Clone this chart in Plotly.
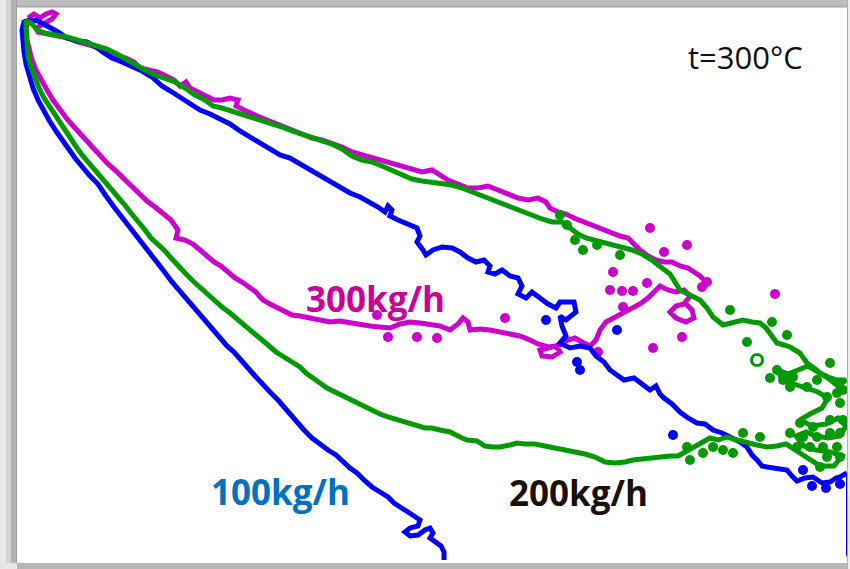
import plotly.graph_objects as go

# ---- traced loop curves (x: position across, y: position down) ----
# 100 kg/h : lower branch (bottom end -> start) then upper branch
blue_lower_x = [444, 444, 441, 436, 430, 433, 430, 425, 418, 410, 405, 410, 418, 420, 415, 408, 400, 394, 388, 380,
                372, 364, 357, 350, 343, 336, 328, 320, 312, 304, 297, 291, 285, 278, 270, 262, 255, 248, 241, 234,
                227, 220, 212, 204, 196, 188, 180, 172, 163, 155, 146, 138, 130, 122, 114, 106, 98, 90, 82, 75,
                68, 62, 56, 49, 43, 38, 33, 29, 26, 24, 23, 22, 24]
blue_lower_y = [560, 552, 546, 542, 538, 533, 528, 530, 535, 536, 532, 528, 526, 520, 516, 512, 507, 503, 497, 492,
                487, 480, 473, 468, 462, 455, 450, 444, 438, 430, 422, 414, 407, 400, 392, 384, 376, 368, 360, 352,
                346, 338, 328, 318, 310, 301, 292, 282, 270, 260, 248, 238, 228, 218, 207, 196, 184, 176, 167, 158,
                148, 140, 131, 120, 110, 100, 88, 76, 64, 52, 40, 30, 22]
blue_upper_x = [30, 38, 48, 58, 67, 77, 87, 96, 104, 112, 122, 132, 142, 152, 162, 172, 182, 192, 200, 210,
                220, 230, 240, 250, 260, 270, 280, 290, 300, 310, 320, 330, 340, 350, 360, 370, 378, 385, 388, 392,
                390, 398, 408, 417, 420, 417, 423, 426, 433, 442, 452, 460, 468, 476, 484, 490, 488, 495, 502, 510,
                518, 522, 518, 526, 532, 540, 548, 556, 560, 574, 576, 566, 560, 562, 566, 560, 570, 580, 590, 596,
                604, 610, 618, 624, 634, 642, 650, 656, 660, 664, 672, 680, 688, 697, 705, 713, 722, 730, 740, 747,
                752, 757, 762, 767, 777, 787, 792, 797, 805, 813, 822, 830, 836, 840, 847]
blue_upper_y = [20, 21, 26, 32, 38, 41, 42, 47, 53, 58, 62, 66, 71, 77, 86, 92, 98, 104, 110, 114,
                119, 124, 131, 137, 144, 150, 155, 158, 164, 170, 176, 182, 188, 193, 197, 202, 207, 212, 206, 210,
                216, 220, 224, 228, 236, 242, 250, 255, 250, 247, 248, 252, 258, 262, 260, 266, 272, 274, 270, 276,
                278, 286, 294, 298, 292, 298, 304, 308, 302, 302, 312, 320, 316, 326, 336, 343, 348, 346, 348, 356,
                362, 370, 376, 380, 378, 384, 390, 386, 394, 398, 404, 412, 418, 423, 424, 430, 433, 437, 442, 447,
                455, 460, 466, 467, 468, 470, 476, 481, 478, 477, 483, 482, 478, 477, 473]
blue_edge_x = [847, 847]
blue_edge_y = [476, 556]
blue_dot_x = [546, 577, 580, 617, 673, 812, 826, 840, 803]
blue_dot_y = [320, 362, 370, 330, 435, 486, 488, 484, 470]

# 200 kg/h : upper branch, right-hand cluster, lower branch back to start
green_upper_x = [26, 32, 37, 45, 55, 67, 77, 87, 97, 107, 117, 127, 137, 145, 155, 165, 175, 185, 195, 205,
                 213, 222, 232, 242, 252, 262, 272, 282, 292, 302, 312, 322, 332, 342, 352, 362, 372, 382, 392, 402,
                 412, 422, 432, 442, 452, 462, 472, 482, 492, 502, 512, 522, 532, 542, 552, 562, 570, 578, 586, 594,
                 602, 612, 622, 632, 642, 652, 662, 670, 680, 690, 700, 707, 713, 723, 733, 743, 752, 760, 766, 770,
                 777, 784, 790, 800, 807, 814, 820, 828, 837, 846]
green_upper_y = [20, 24, 30, 33, 35, 37, 40, 43, 45, 49, 54, 60, 66, 70, 75, 78, 82, 88, 95, 100,
                 106, 108, 111, 114, 118, 121, 124, 127, 131, 134, 138, 141, 144, 149, 156, 160, 162, 166, 170, 175,
                 179, 181, 182, 184, 185, 188, 192, 195, 199, 203, 207, 212, 216, 219, 222, 222, 228, 234, 238, 240,
                 242, 245, 248, 250, 254, 260, 268, 274, 290, 295, 300, 308, 317, 325, 322, 320, 322, 323, 328, 333,
                 343, 345, 347, 353, 363, 368, 373, 377, 380, 380]
green_cluster_x = [838, 828, 818, 808, 798, 788, 778, 782, 794, 806, 818, 828, 822, 810, 800, 812, 826, 838, 846, 840,
                   828, 816, 806, 796, 804, 816, 830, 842, 834, 820, 808, 796, 786]
green_cluster_y = [386, 378, 372, 366, 370, 374, 370, 380, 384, 388, 392, 398, 408, 414, 420, 426, 424, 418, 426, 436,
                   438, 436, 432, 436, 446, 450, 452, 456, 466, 466, 458, 450, 444]
green_lower_x = [777, 767, 757, 747, 737, 727, 718, 710, 703, 696, 690, 684, 678, 670, 660, 650, 640, 633, 625,
                 615, 605, 595, 585, 575, 565, 555, 545, 535, 525, 517, 510, 500, 493, 485, 477, 467, 460, 450, 440,
                 432, 425, 418, 410, 402, 395, 388, 380, 372, 365, 358, 350, 342, 334, 327, 320, 313, 306, 300, 292,
                 284, 276, 268, 260, 252, 246, 238, 230, 222, 215, 208, 200, 193, 186, 179, 172, 165, 158, 151, 145,
                 138, 131, 124, 117, 110, 103, 96, 89, 82, 75, 69, 62, 56, 50, 44, 39, 35, 31, 28, 27,
                 26, 26, 26]
green_lower_y = [446, 447, 445, 443, 440, 437, 440, 438, 442, 446, 450, 454, 456, 456, 457, 458, 460, 460, 462,
                 463, 462, 457, 454, 452, 451, 449, 447, 444, 444, 443, 445, 447, 447, 446, 441, 440, 437, 432, 430,
                 428, 428, 426, 424, 422, 420, 417, 414, 410, 407, 404, 399, 396, 391, 388, 383, 378, 373, 367, 362,
                 357, 352, 345, 338, 331, 326, 320, 313, 307, 301, 295, 288, 281, 274, 267, 259, 251, 244, 238, 230,
                 222, 213, 204, 196, 188, 180, 172, 164, 155, 145, 136, 126, 117, 108, 98, 88, 78, 67, 56, 45,
                 35, 26, 20]
green_dot_x = [730, 772, 747, 787, 770, 787, 807, 830, 777, 783, 793, 790, 817, 827, 837, 843, 840, 830, 843, 813,
               800, 790, 803, 817, 830, 840, 797, 810, 823, 837, 827, 840, 820, 687, 690, 703, 713, 723, 733, 743,
               760, 560, 567, 575, 583, 597, 620]
green_dot_y = [310, 322, 342, 335, 378, 380, 387, 363, 370, 380, 377, 387, 380, 397, 393, 390, 403, 420, 420, 427,
               423, 433, 437, 437, 433, 433, 447, 447, 447, 447, 457, 457, 467, 447, 460, 453, 447, 450, 453, 433,
               437, 215, 225, 240, 250, 245, 255]
green_ring_x = [757]
green_ring_y = [360]

# 300 kg/h : lower branch, upper branch and scattered spots
mag_upper_x = [28, 34, 40, 46, 52, 56, 52, 46, 40, 36, 38, 48, 58, 68, 78, 90, 100, 110, 118, 126,
               134, 140, 150, 158, 166, 174, 180, 186, 190, 198, 206, 214, 222, 230, 238, 236, 244, 252, 262, 272,
               282, 292, 302, 312, 322, 332, 342, 352, 362, 372, 382, 392, 402, 412, 422, 432, 440, 448, 458, 468,
               478, 488, 498, 508, 518, 528, 538, 546, 550, 558, 566, 574, 584, 594, 604, 612, 620, 628, 634, 640,
               648, 656, 664, 672, 680, 688, 694, 700, 706]
mag_upper_y = [18, 14, 18, 14, 12, 14, 19, 23, 26, 28, 32, 34, 36, 38, 42, 45, 48, 52, 56, 58,
               62, 68, 70, 72, 76, 80, 86, 82, 88, 92, 96, 100, 100, 98, 100, 106, 110, 114, 118, 122,
               126, 130, 134, 138, 140, 143, 147, 152, 155, 158, 160, 163, 166, 170, 172, 170, 175, 180, 184, 188,
               188, 186, 190, 194, 198, 200, 198, 202, 208, 212, 214, 218, 222, 226, 230, 232, 236, 238, 244, 250,
               256, 260, 262, 262, 266, 268, 272, 276, 282]
mag_lower_x = [28, 26, 27, 29, 32, 36, 41, 47, 53, 60, 67, 75, 83, 91, 99, 107, 115, 123, 131, 139,
               147, 155, 163, 171, 178, 176, 185, 193, 200, 207, 214, 221, 228, 235, 242, 249, 256, 260, 263, 270,
               278, 285, 292, 300, 310, 320, 330, 340, 350, 360, 370, 380, 390, 400, 410, 420, 430, 440, 450, 458,
               463, 468, 470, 480, 490, 500, 510, 520, 530, 538, 548, 556, 560, 552, 542, 540, 548, 560, 568, 575,
               582, 590, 596, 600, 606, 614, 622, 630, 640, 648, 654, 660, 668, 676, 684, 690, 684, 676, 670, 676,
               686, 694, 692, 686]
mag_lower_y = [20, 30, 40, 50, 60, 70, 80, 90, 100, 110, 119, 128, 137, 146, 155, 163, 170, 178, 186, 194,
               201, 207, 214, 220, 230, 238, 240, 244, 250, 256, 262, 266, 272, 278, 282, 287, 292, 297, 300, 304,
               308, 312, 315, 316, 318, 320, 322, 321, 323, 325, 326, 327, 328, 324, 322, 323, 325, 326, 330, 324,
               318, 322, 330, 329, 330, 332, 334, 336, 340, 344, 347, 346, 352, 357, 356, 350, 348, 345, 340, 338,
               342, 346, 340, 330, 322, 318, 314, 310, 304, 298, 292, 286, 290, 292, 290, 296, 304, 306, 312, 318,
               322, 318, 310, 304]
mag_dot_x = [650, 687, 613, 610, 622, 633, 647, 707, 775, 505, 653, 682, 623, 377, 388, 417, 437, 664, 598, 702]
mag_dot_y = [228, 245, 272, 290, 291, 291, 283, 282, 294, 318, 348, 337, 307, 315, 337, 337, 338, 252, 352, 287]

# ---- labels ----
label_text = ["300kg/h", "100kg/h", "200kg/h", "t=300°C"]
label_x = [375, 280, 578, 745]
label_y = [298, 491, 492, 57]

BLUE = "#0000FF"
GREEN = "#009A00"
MAGENTA = "#CC00CC"
LW = 5

fig = go.Figure()


def curve(x, y, color, width=LW):
    fig.add_trace(go.Scatter(x=x, y=y, mode="lines", hoverinfo="skip",
                             line=dict(color=color, width=width, shape="linear")))


def dots(x, y, color, size=10, symbol="circle"):
    fig.add_trace(go.Scatter(x=x, y=y, mode="markers", hoverinfo="skip",
                             marker=dict(color=color, size=size, symbol=symbol,
                                         line=dict(color=color, width=3 if "open" in symbol else 0))))


# 300 kg/h underneath, then 100 kg/h, then 200 kg/h on top
curve(mag_upper_x, mag_upper_y, MAGENTA)
curve(mag_lower_x, mag_lower_y, MAGENTA)
dots(mag_dot_x, mag_dot_y, MAGENTA)

curve(blue_lower_x + blue_upper_x, blue_lower_y + blue_upper_y, BLUE)
curve(blue_edge_x, blue_edge_y, BLUE, width=2)
dots(blue_dot_x, blue_dot_y, BLUE)

curve(green_upper_x + green_cluster_x + green_lower_x,
      green_upper_y + green_cluster_y + green_lower_y, GREEN)
dots(green_dot_x, green_dot_y, GREEN)
dots(green_ring_x, green_ring_y, GREEN, size=11, symbol="circle-open")

label_colors = ["#CC0099", "#0070C0", "#1A120A", "#111111"]
label_weights = ["bold", "bold", "bold", "normal"]
label_sizes = [35, 35, 35, 31]
for t, x, y, c, w, s in zip(label_text, label_x, label_y, label_colors, label_weights, label_sizes):
    fig.add_annotation(x=x, y=y, text=t, showarrow=False, xanchor="center", yanchor="middle",
                       font=dict(family="Open Sans", size=s, color=c, weight=w))

# window frame: grey bands with a soft shadow
frame = [
    dict(x0=0, x1=1, y0=1 - 7 / 569, y1=1, color="#bdbdbd"),
    dict(x0=0, x1=1, y0=1 - 7.5 / 569, y1=1 - 6 / 569, color="#a6a6a6"),
    dict(x0=0, x1=6 / 850, y0=0, y1=1, color="#e8e8e8"),
    dict(x0=6 / 850, x1=11 / 850, y0=0, y1=1, color="#d2d2d2"),
    dict(x0=11 / 850, x1=16 / 850, y0=0, y1=1, color="#b3b3b3"),
    dict(x0=16 / 850, x1=17 / 850, y0=0, y1=1, color="#9e9e9e"),
    dict(x0=17 / 850, x1=1, y0=0, y1=6 / 569, color="#b6b6b6"),
    dict(x0=0, x1=17 / 850, y0=0, y1=6 / 569, color="#e6e6e6"),
    dict(x0=847 / 850, x1=848 / 850, y0=0, y1=1, color="#b0b0b0"),
    dict(x0=848 / 850, x1=1, y0=0, y1=1, color="#eeeeee"),
]
for f in frame:
    fig.add_shape(type="rect", xref="paper", yref="paper", x0=f["x0"], x1=f["x1"],
                  y0=f["y0"], y1=f["y1"], fillcolor=f["color"], line=dict(width=0), layer="above")

fig.update_layout(
    width=850, height=569,
    margin=dict(l=0, r=0, t=0, b=0),
    paper_bgcolor="white", plot_bgcolor="white",
    showlegend=False,
    xaxis=dict(range=[0, 850], visible=False, fixedrange=True),
    yaxis=dict(range=[569, 0], visible=False, fixedrange=True),
)

fig.write_html("out.html", config={"displayModeBar": False})
